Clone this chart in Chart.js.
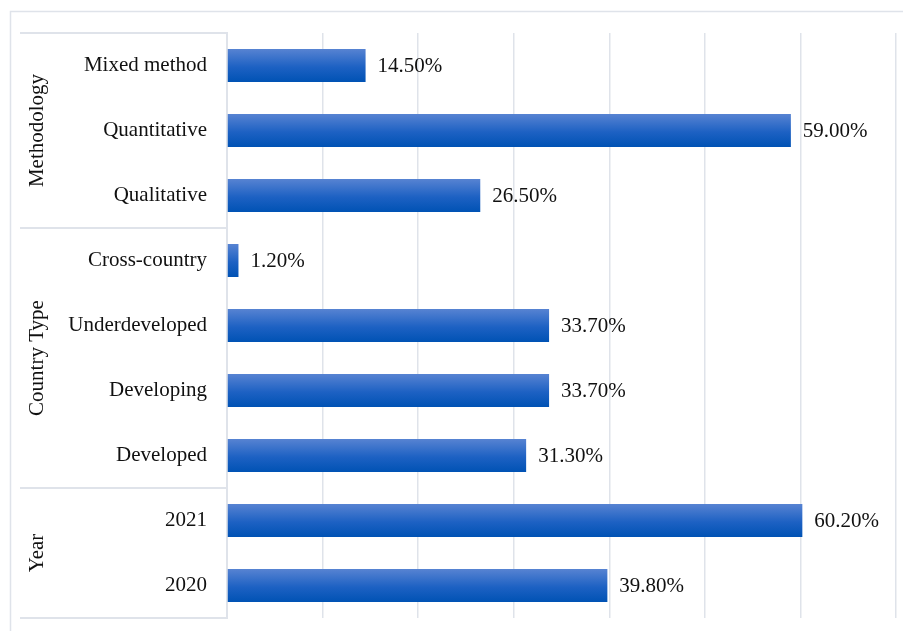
<!DOCTYPE html>
<html>
<head>
<meta charset="utf-8">
<script src="https://cdn.jsdelivr.net/npm/chart.js@4"></script>
<style>
html,body{margin:0;padding:0;background:#fff;}
#wrap{width:903px;height:631px;position:relative;}
</style>
</head>
<body>
<div id="wrap"><canvas id="c" width="903" height="631"></canvas></div>
<script>
const categories = ["Mixed method","Quantitative","Qualitative","Cross-country","Underdeveloped","Developing","Developed","2021","2020"];
const values = [14.5, 59.0, 26.5, 1.2, 33.7, 33.7, 31.3, 60.2, 39.8];
const groupNames = ["Methodology","Country Type","Year"];
const groupSizes = [3, 4, 2];

const FONT = '"Liberation Serif", "Times New Roman", serif';
const LINE = '#dfe3ea';

function barGradient(ctx) {
  const chart = ctx.chart;
  const y = chart.scales && chart.scales.y;
  if (!chart.chartArea || !y || ctx.dataIndex === undefined) return '#1a5fc0';
  const c = y.getPixelForValue(ctx.dataIndex);
  const h = 33;
  const g = chart.ctx.createLinearGradient(0, c - h/2, 0, c + h/2);
  g.addColorStop(0, '#5783d2');
  g.addColorStop(0.55, '#1d61c3');
  g.addColorStop(1, '#0052b4');
  return g;
}

const decor = {
  id: 'decor',
  beforeDraw(chart) {
    const ctx = chart.ctx;
    ctx.save();
    ctx.strokeStyle = LINE;
    ctx.lineWidth = 1.5;
    ctx.beginPath();
    ctx.moveTo(10.5, 631); ctx.lineTo(10.5, 11.5); ctx.lineTo(903, 11.5);
    ctx.stroke();
    ctx.restore();
  },
  afterDraw(chart) {
    const ctx = chart.ctx;
    const y = chart.scales.y;
    const area = chart.chartArea;
    ctx.save();
    ctx.strokeStyle = LINE;
    ctx.lineWidth = 2;
    let idx = 0;
    const bounds = [y.getPixelForValue(-0.5)];
    groupSizes.forEach(n => { idx += n; bounds.push(y.getPixelForValue(idx - 0.5)); });
    bounds.forEach(b => {
      ctx.beginPath(); ctx.moveTo(20, b); ctx.lineTo(area.left, b); ctx.stroke();
    });
    ctx.fillStyle = '#111';
    ctx.font = '21px ' + FONT;
    ctx.textAlign = 'center';
    ctx.textBaseline = 'middle';
    for (let i = 0; i < groupNames.length; i++) {
      const mid = (bounds[i] + bounds[i+1]) / 2;
      ctx.save();
      ctx.translate(36, mid);
      ctx.rotate(-Math.PI/2);
      ctx.fillText(groupNames[i], 0, 1);
      ctx.restore();
    }
    const meta = chart.getDatasetMeta(0);
    ctx.textAlign = 'left';
    meta.data.forEach((bar, i) => {
      ctx.fillText(values[i].toFixed(2) + '%', bar.x + 12, bar.y + 1);
    });
    ctx.restore();
  }
};

new Chart(document.getElementById('c'), {
  type: 'bar',
  data: {
    labels: categories,
    datasets: [{
      data: values,
      backgroundColor: barGradient,
      borderWidth: 0,
      barPercentage: 0.508,
      categoryPercentage: 1.0
    }]
  },
  options: {
    indexAxis: 'y',
    responsive: false,
    animation: false,
    events: [],
    layout: { padding: { top: 33, right: 7, bottom: 13, left: 0 } },
    plugins: { legend: { display: false }, tooltip: { enabled: false } },
    scales: {
      x: {
        min: 0, max: 70,
        ticks: { display: false, stepSize: 10 },
        grid: { color: LINE, lineWidth: 1.5, drawTicks: false },
        border: { display: false },
        afterFit(s) { s.height = 0; }
      },
      y: {
        ticks: { color: '#111', font: { family: FONT, size: 21 }, padding: 20 },
        grid: { display: false, drawTicks: false },
        border: { display: true, color: LINE, width: 2 },
        afterFit(s) { s.width = 227; s.paddingTop = 0; s.paddingBottom = 0; }
      }
    }
  },
  plugins: [decor]
});
</script>
</body>
</html>
